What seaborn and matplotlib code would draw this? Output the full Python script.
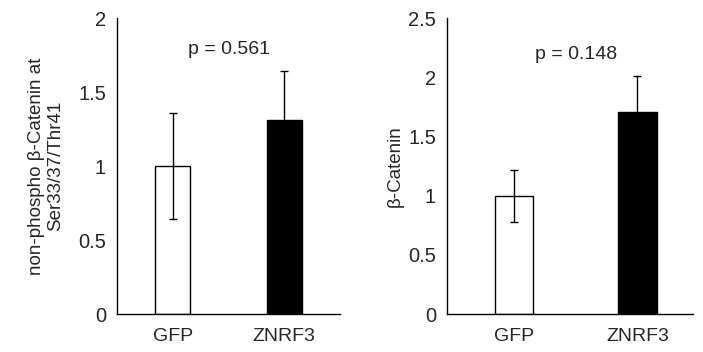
import seaborn as sns
import matplotlib.pyplot as plt
import pandas as pd

groups = ["GFP", "ZNRF3"]
phospho_mean = [1.0, 1.31]
phospho_err = [0.36, 0.335]
total_mean = [1.0, 1.71]
total_err = [0.22, 0.30]
bar_colors = ["white", "black"]


def panel(ax, means, errs, ymax, yticks, ylabel, ptext, py, lpad):
    df = pd.DataFrame({"group": groups, "value": means})
    sns.barplot(data=df, x="group", y="value", hue="group", palette=bar_colors,
                width=0.31, edgecolor="black", linewidth=1, legend=False, ax=ax)
    ax.errorbar(range(len(groups)), means, yerr=errs, fmt="none", ecolor="black",
                elinewidth=1, capsize=2.6, capthick=1)
    ax.set_ylim(0, ymax)
    ax.set_xlim(-0.5, 1.5)
    ax.set_yticks(yticks)
    ax.set_yticklabels([f"{t:g}" for t in yticks])
    ax.set_xlabel("")
    ax.set_ylabel(ylabel, fontsize=13.5, labelpad=lpad)
    ax.tick_params(axis="x", length=0, pad=10, labelsize=14)
    ax.tick_params(axis="y", length=5, width=1, direction="out", labelsize=14.5, pad=3)
    for s in ["top", "right"]:
        ax.spines[s].set_visible(False)
    for s in ["left", "bottom"]:
        ax.spines[s].set_linewidth(1)
        ax.spines[s].set_color("black")
    ax.text(0.5, py, ptext, ha="center", va="center", fontsize=14)


sns.set_style("white")
plt.rcParams["font.family"] = ["Liberation Sans", "DejaVu Sans"]

fig = plt.figure(figsize=(7.03, 3.52), dpi=100)
ax1 = fig.add_axes([117 / 703, 38 / 352, 223 / 703, 296 / 352])
ax2 = fig.add_axes([447 / 703, 38 / 352, 246 / 703, 296 / 352])

panel(ax1, phospho_mean, phospho_err, 2, [0, 0.5, 1, 1.5, 2],
      "non-phospho β-Catenin at\nSer33/37/Thr41", "p = 0.561", 1.79, 10)
panel(ax2, total_mean, total_err, 2.5, [0, 0.5, 1, 1.5, 2, 2.5],
      "β-Catenin", "p = 0.148", 2.19, 3)
ax2.set_xlim(-0.54, 1.45)

fig.savefig("out.png", dpi=100)
